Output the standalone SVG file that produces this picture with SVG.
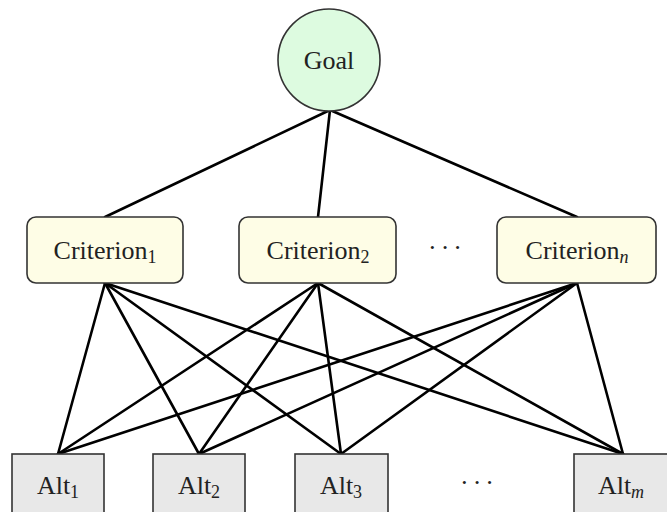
<svg xmlns="http://www.w3.org/2000/svg" width="667" height="512" viewBox="0 0 667 512">
<style>
text{font-family:'Liberation Serif','Times New Roman',serif;font-size:26px;fill:#222;text-anchor:middle}
.sub{font-size:18px}
.it{font-style:italic}
.goal{fill:#ddfbe0;stroke:#333;stroke-width:1.6}
.crit{fill:#fefde6;stroke:#333;stroke-width:1.6}
.alt{fill:#e8e8e8;stroke:#333;stroke-width:1.6}
.edge{stroke:#000;stroke-width:2.6;fill:none;stroke-linecap:round}
</style>
<rect width="667" height="512" fill="#fff"/>
<g id="connectors">
<line class="edge" x1="330" y1="110" x2="105" y2="217"/>
<line class="edge" x1="330" y1="110" x2="318" y2="217"/>
<line class="edge" x1="330" y1="110" x2="577" y2="217"/>
<line class="edge" x1="105" y1="283" x2="58" y2="454"/>
<line class="edge" x1="105" y1="283" x2="199" y2="454"/>
<line class="edge" x1="105" y1="283" x2="341" y2="454"/>
<line class="edge" x1="105" y1="283" x2="623" y2="454"/>
<line class="edge" x1="318" y1="283" x2="58" y2="454"/>
<line class="edge" x1="318" y1="283" x2="199" y2="454"/>
<line class="edge" x1="318" y1="283" x2="341" y2="454"/>
<line class="edge" x1="318" y1="283" x2="623" y2="454"/>
<line class="edge" x1="577" y1="283" x2="58" y2="454"/>
<line class="edge" x1="577" y1="283" x2="199" y2="454"/>
<line class="edge" x1="577" y1="283" x2="341" y2="454"/>
<line class="edge" x1="577" y1="283" x2="623" y2="454"/>
</g>
<g id="goal">
<circle class="goal" cx="329" cy="60" r="51"/>
<text x="329" y="69">Goal</text>
</g>
<g id="criterion1">
<rect class="crit" x="27" y="217" width="156" height="66" rx="9"/>
<text x="105" y="259">Criterion<tspan class="sub" dy="4">1</tspan></text>
</g>
<g id="criterion2">
<rect class="crit" x="239" y="217" width="157" height="66" rx="9"/>
<text x="318" y="259">Criterion<tspan class="sub" dy="4">2</tspan></text>
</g>
<g id="dots1">
<text x="447" y="256" letter-spacing="4">···</text>
</g>
<g id="criterionn">
<rect class="crit" x="497" y="217" width="159" height="66" rx="9"/>
<text x="577" y="259">Criterion<tspan class="sub it" dy="4">n</tspan></text>
</g>
<g id="alt1">
<rect class="alt" x="12" y="454" width="92" height="70"/>
<text x="58" y="494">Alt<tspan class="sub" dy="4">1</tspan></text>
</g>
<g id="alt2">
<rect class="alt" x="153" y="454" width="92" height="70"/>
<text x="199" y="494">Alt<tspan class="sub" dy="4">2</tspan></text>
</g>
<g id="alt3">
<rect class="alt" x="295" y="454" width="93" height="70"/>
<text x="341" y="494">Alt<tspan class="sub" dy="4">3</tspan></text>
</g>
<g id="dots2">
<text x="479" y="491" letter-spacing="4">···</text>
</g>
<g id="altm">
<rect class="alt" x="574" y="454" width="100" height="70"/>
<text x="621" y="494">Alt<tspan class="sub it" dy="4">m</tspan></text>
</g>
</svg>
